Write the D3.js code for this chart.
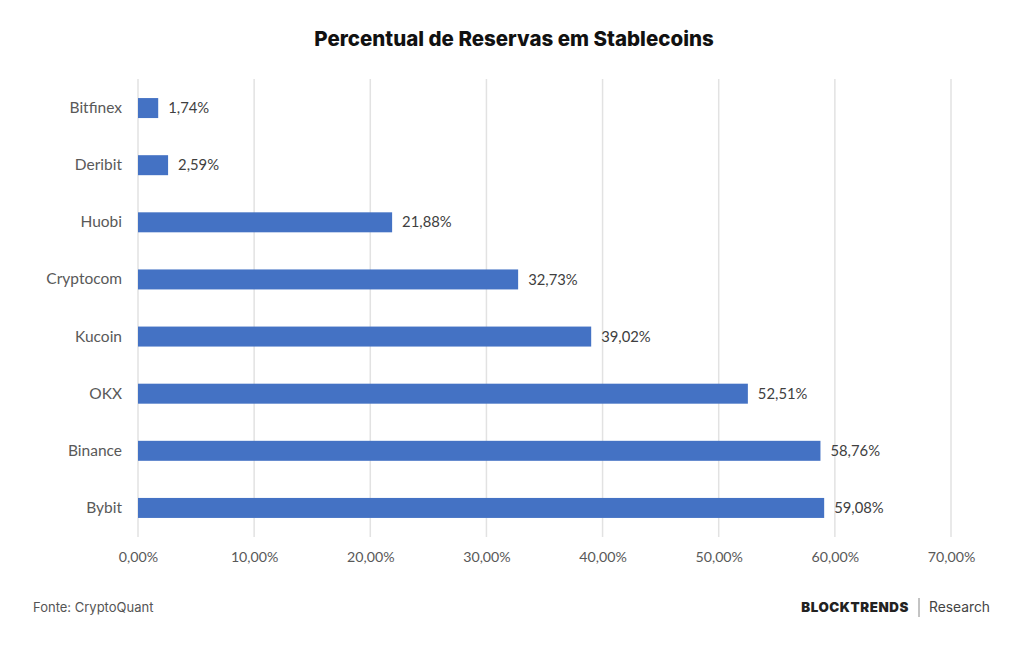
<!DOCTYPE html>
<html><head><meta charset="utf-8">
<script src="https://cdn.jsdelivr.net/npm/d3@7"></script>
<style>body{margin:0;background:#fff}svg{display:block}</style>
</head><body>
<svg id="c" width="1024" height="645"></svg>
<script>
const categories = ["Bitfinex","Deribit","Huobi","Cryptocom","Kucoin","OKX","Binance","Bybit"];
const values = [1.74, 2.59, 21.88, 32.73, 39.02, 52.51, 58.76, 59.08];
const tickValues = [0,10,20,30,40,50,60,70];
const title = "Percentual de Reservas em Stablecoins";
const source = "Fonte: CryptoQuant";

const svg = d3.select("#c");
const fmt = v => d3.format(".2f")(v).replace(".", ",") + "%";
const x = d3.scaleLinear().domain([0,70]).range([138,951]);
const y = d3.scaleBand().domain(categories).range([79.5,536.5]).paddingInner(0.65).paddingOuter(0.325);
const labFont = "Lato, 'Open Sans', sans-serif";

svg.append("text").attr("x",514).attr("y",46).attr("text-anchor","middle")
  .attr("font-family","Inter, sans-serif").attr("font-weight",800).attr("font-size",20.5)
  .attr("fill","#111").text(title);

// gridlines
svg.append("g").selectAll("line").data(tickValues).join("line")
  .attr("x1",d=>x(d)).attr("x2",d=>x(d)).attr("y1",79).attr("y2",537)
  .attr("stroke","#e2e2e2").attr("stroke-width",1.5);

// x axis
const xa = svg.append("g").attr("transform","translate(0,537)")
  .call(d3.axisBottom(x).tickValues(tickValues).tickFormat(fmt).tickSize(0).tickPadding(15));
xa.select(".domain").remove();
xa.selectAll("text").attr("font-family",labFont).attr("font-size",14.2).attr("fill","#595959");

// y axis
const ya = svg.append("g").attr("transform","translate(138,0)")
  .call(d3.axisLeft(y).tickSize(0).tickPadding(16));
ya.select(".domain").remove();
ya.selectAll("text").attr("font-family",labFont).attr("font-size",15.5).attr("fill","#595959");

// bars
const data = categories.map((c,i)=>({c, v: values[i]}));
svg.append("g").selectAll("rect").data(data).join("rect")
  .attr("x",x(0)).attr("y",d=>y(d.c)).attr("width",d=>x(d.v)-x(0)).attr("height",y.bandwidth())
  .attr("fill","#4472C4");

svg.append("g").selectAll("text").data(data).join("text")
  .attr("x",d=>x(d.v)+10).attr("y",d=>y(d.c)+y.bandwidth()/2).attr("dy","0.35em")
  .attr("font-family",labFont).attr("font-size",14.8).attr("fill","#404040").text(d=>fmt(d.v));

// footer
svg.append("text").attr("x",33).attr("y",612).attr("font-family","Inter, sans-serif")
  .attr("font-size",13).attr("fill","#555").text(source);
svg.append("text").attr("x",909).attr("y",612).attr("text-anchor","end").attr("font-family","Inter, sans-serif")
  .attr("font-weight",900).attr("font-size",13.3).attr("letter-spacing",0.6).attr("fill","#222").text("BLOCKTRENDS");
svg.append("line").attr("x1",919).attr("x2",919).attr("y1",598).attr("y2",617).attr("stroke","#888").attr("stroke-width",1);
svg.append("text").attr("x",929).attr("y",612).attr("font-family","Inter, sans-serif")
  .attr("font-size",13.8).attr("fill","#444").text("Research");
</script>
</body></html>
